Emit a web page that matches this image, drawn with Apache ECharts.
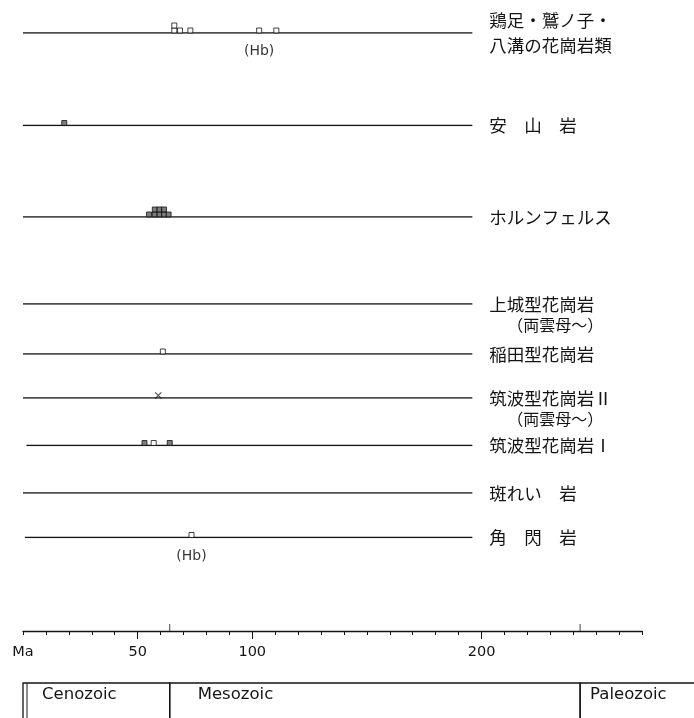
<!DOCTYPE html>
<html><head><meta charset="utf-8">
<script src="https://cdn.jsdelivr.net/npm/echarts@6/dist/echarts.min.js"></script>
<style>html,body{margin:0;padding:0;background:#fff}#c{width:694px;height:718px}</style>
</head><body><div id="c"></div>
<script>
// ---------- DATA ----------
const rowNames = ['鶏足・鷲ノ子・\n八溝の花崗岩類', '安　山　岩', 'ホルンフェルス', '上城型花崗岩', '稲田型花崗岩', '筑波型花崗岩Ⅱ', '筑波型花崗岩Ⅰ', '斑れい　岩', '角　閃　岩'];
const rowSubNames = ['', '', '', '（両雲母～）', '', '（両雲母～）', '', '', ''];
const rowLineStart = [0, 0, 0, 0, 0, 0, 1.5, 0, 0.8];
const rowLineEnd = [196, 196, 196, 196, 196, 196, 196, 196, 196];
// age determinations: row index, age (Ma), count, kind, note
const markRow   = [0, 0, 0, 0, 0, 1, 2, 2, 2, 2, 2, 4, 5, 6, 6, 6, 8];
const markAge   = [66, 68.5, 73, 103, 110.5, 18, 55, 57.5, 59.5, 61.5, 63.5, 61, 59, 53, 57, 64, 73.5];
const markCount = [2, 1, 1, 1, 1, 1, 1, 2, 2, 2, 1, 1, 1, 1, 1, 1, 1];
const markKind  = ['open', 'open', 'open', 'open', 'open', 'filled', 'filled', 'filled', 'filled', 'filled', 'filled', 'open', 'cross', 'filled', 'open', 'filled', 'open'];
const markNote  = ['', '', '', '(Hb)', '', '', '', '', '', '', '', '', '', '', '', '', '(Hb)'];
// time axis
const axisMin = 0, axisMax = 270, axisStep = 10;
const axisLabelValues = [0, 50, 100, 200];
const boundaryAges = [64, 243];
// geological eras
const eraNames = ['Cenozoic', 'Mesozoic', 'Paleozoic'];
const eraStart = [0, 64, 243];
const eraEnd = [64, 243, 300];

// ---------- LAYOUT ----------
const rowY = [33, 125.5, 217, 304, 354, 398, 445.5, 493, 537.5];
const L = 23, R = 52, unitPx = 5, rowH = 25;
const eraTextOffset = [19, 28, 10];
const INK = '#141414';
const CJK = '"Noto Sans CJK JP", sans-serif';
const LAT = '"DejaVu Sans", sans-serif';

const grids = [], xAxes = [], yAxes = [], series = [];
rowY.forEach((y, i) => {
  grids.push({ left: L, right: R, top: y - rowH, height: rowH });
  xAxes.push({ type: 'value', gridIndex: i, min: axisMin, max: axisMax, show: false });
  yAxes.push({ type: 'value', gridIndex: i, min: 0, max: rowH / unitPx, show: false });
  const sub = rowSubNames[i];
  series.push({
    type: 'line', xAxisIndex: i, yAxisIndex: i, symbol: 'none', silent: true, z: 2,
    data: [[rowLineStart[i], 0], [rowLineEnd[i], 0]],
    lineStyle: { color: INK, width: 1.3 },
    endLabel: sub ? {
      show: true, distance: 17, color: INK, fontFamily: CJK, fontSize: 17.5, lineHeight: 21,
      verticalAlign: 'top', offset: [0, -10.5],
      formatter: () => rowNames[i] + '\n{s|' + sub + '}',
      rich: { s: { fontFamily: CJK, fontSize: 16, lineHeight: 21, color: INK, padding: [0, 0, 0, 18] } }
    } : {
      show: true, distance: 17, color: INK, fontFamily: CJK, fontSize: 17.5, lineHeight: 25,
      formatter: () => rowNames[i]
    }
  });
  // marks of this row
  const pts = [];
  markRow.forEach((r, k) => {
    if (r !== i) return;
    for (let c = 0; c < markCount[k]; c++) {
      const kind = markKind[k];
      const note = (c === 0) ? markNote[k] : '';
      pts.push({
        value: [markAge[k], c + 0.5],
        symbol: kind === 'cross' ? 'path://M0,1L1,0L5,4L9,0L10,1L6,5L10,9L9,10L5,6L1,10L0,9L4,5Z' : 'rect',
        symbolSize: kind === 'cross' ? 7 : [5, 5],
        itemStyle: kind === 'filled' ? { color: '#5e5e5e', borderColor: INK, borderWidth: 1 }
                 : kind === 'open' ? { color: '#fff', borderColor: INK, borderWidth: 1 }
                 : { color: INK },
        label: note ? { show: true, position: 'bottom', distance: 11, formatter: note, color: '#000', fontFamily: LAT, fontSize: 14 } : { show: false }
      });
    }
  });
  if (pts.length) series.push({ type: 'scatter', xAxisIndex: i, yAxisIndex: i, z: 3, silent: true, data: pts });
});

// time axis grid
const gA = grids.length;
grids.push({ left: L, right: R, top: 600, height: 31 });
xAxes.push({
  type: 'value', gridIndex: gA, min: axisMin, max: axisMax, interval: axisStep, position: 'bottom',
  splitLine: { show: false },
  axisLine: { show: true, lineStyle: { color: INK, width: 1.3 } },
  axisTick: { show: true, length: 4, lineStyle: { color: INK, width: 1 } },
  axisLabel: {
    show: true, customValues: axisLabelValues, margin: 14, color: INK, fontFamily: LAT, fontSize: 14.5,
    formatter: v => v === 0 ? 'Ma' : String(v)
  }
});
yAxes.push({ type: 'value', gridIndex: gA, min: 0, max: 1, show: false });
xAxes.push({
  type: 'value', gridIndex: gA, min: axisMin, max: axisMax, position: 'bottom',
  splitLine: { show: false }, axisLine: { show: false },
  axisTick: { show: true, customValues: axisLabelValues.filter(v => v > 0), length: 8, lineStyle: { color: INK, width: 1 } },
  axisLabel: { show: false }
});
series.push({
  type: 'scatter', xAxisIndex: gA, yAxisIndex: gA, silent: true, symbol: 'rect', symbolSize: [1, 7], symbolOffset: [0, -3.5],
  itemStyle: { color: INK }, data: boundaryAges.map(a => [a, 0])
});

// era bar grid
const gE = grids.length;
grids.push({ left: L, right: R, top: 683, height: 40 });
const xE = xAxes.length;
xAxes.push({ type: 'value', gridIndex: gE, min: axisMin, max: axisMax, show: false });
const yE = yAxes.length;
yAxes.push({ type: 'value', gridIndex: gE, min: 0, max: 1, show: false });
series.push({
  type: 'custom', xAxisIndex: xE, yAxisIndex: yE, silent: true, clip: false,
  data: eraNames.map((n, k) => [eraStart[k], eraEnd[k], k]),
  renderItem: (params, api) => {
    const k = api.value(2);
    const a = api.coord([api.value(0), 1]);
    const b = api.coord([api.value(1), 0]);
    const ch = [
      { type: 'rect', shape: { x: a[0], y: a[1], width: b[0] - a[0], height: b[1] - a[1] + 10 },
        style: { fill: 'none', stroke: INK, lineWidth: 1.3 } },
      { type: 'text', style: { text: eraNames[k], x: a[0] + eraTextOffset[k], y: a[1] + 3, fill: INK,
        font: '16.5px "DejaVu Sans", sans-serif', textVerticalAlign: 'top' } }
    ];
    if (k === 0) ch.push({ type: 'line', shape: { x1: a[0] + 4, y1: a[1], x2: a[0] + 4, y2: b[1] + 10 }, style: { stroke: INK, lineWidth: 1 } });
    return { type: 'group', children: ch };
  }
});

const chart = echarts.init(document.getElementById('c'), null, { renderer: 'canvas' });
chart.setOption({ animation: false, backgroundColor: '#fff', grid: grids, xAxis: xAxes, yAxis: yAxes, series: series });
</script></body></html>
